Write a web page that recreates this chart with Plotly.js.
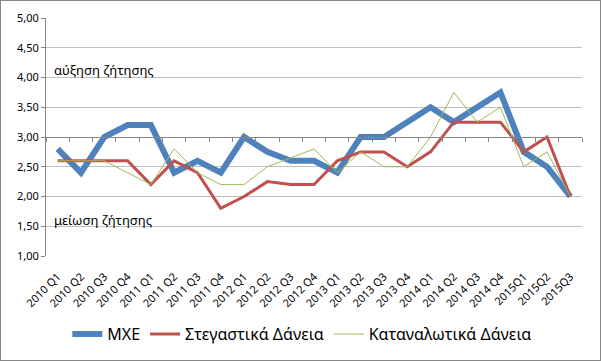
<!DOCTYPE html>
<html><head><meta charset="utf-8">
<script src="https://cdn.plot.ly/plotly-3.0.1.min.js"></script>
<style>
html,body{margin:0;padding:0;background:#fff;}
#wrap{position:absolute;left:0;top:0;width:601px;height:361px;box-sizing:border-box;border:1px solid #868686;}
#chart{width:599px;height:359px;}
</style></head>
<body><div id="wrap"><div id="chart"></div></div>
<script>
const categories = ["2010 Q1","2010 Q2","2010 Q3","2010 Q4","2011 Q1","2011 Q2","2011 Q3","2011 Q4",
  "2012 Q1","2012 Q2","2012 Q3","2012 Q4","2013 Q1","2013 Q2","2013 Q3","2013 Q4",
  "2014 Q1","2014 Q2","2014 Q3","2014 Q4","2015Q1","2015Q2","2015Q3"];
const mxe      = [2.8,2.4,3.0,3.2,3.2,2.4,2.6,2.4,3.0,2.75,2.6,2.6,2.4,3.0,3.0,3.25,3.5,3.25,3.5,3.75,2.75,2.5,2.0];
const housing  = [2.6,2.6,2.6,2.6,2.2,2.6,2.4,1.8,2.0,2.25,2.2,2.2,2.6,2.75,2.75,2.5,2.75,3.25,3.25,3.25,2.75,3.0,2.0];
const consumer = [2.6,2.6,2.6,2.4,2.2,2.8,2.4,2.2,2.2,2.5,2.65,2.8,2.4,2.75,2.5,2.5,3.0,3.75,3.25,3.5,2.5,2.75,2.0];
const seriesNames = ["ΜΧΕ","Στεγαστικά Δάνεια","Καταναλωτικά Δάνεια"];
const FONT = "Noto Sans, DejaVu Sans, sans-serif";

const traces = [
  {x:categories, y:mxe, name:seriesNames[0], type:"scatter", mode:"lines",
   line:{color:"#4F81BD", width:6}},
  {x:categories, y:housing, name:seriesNames[1], type:"scatter", mode:"lines",
   line:{color:"#C0504D", width:3}},
  {x:categories, y:consumer, name:seriesNames[2], type:"scatter", mode:"lines",
   line:{color:"#9BBB59", width:1}},
  // empty helper trace so the crossing axis (at 3,00) is drawn
  {x:[], y:[], xaxis:"x2", yaxis:"y", type:"scatter", mode:"lines", showlegend:false, hoverinfo:"skip"}
];

const boundaries = categories.map((c,i)=>i-0.5).concat([categories.length-0.5]);

const layout = {
  width:599, height:359,
  margin:{l:45, r:18, t:17, b:104},
  paper_bgcolor:"#fff", plot_bgcolor:"#fff",
  separators:",.",
  font:{family:FONT, size:11, color:"#000"},
  showlegend:true,
  legend:{orientation:"h", xref:"container", yref:"container", x:0.503, xanchor:"center", y:0.072, yanchor:"middle",
    font:{family:FONT, size:16, color:"#000"}},
  xaxis:{type:"category", range:[-0.5, categories.length-0.5], tickangle:-45, automargin:false,
    showgrid:false, zeroline:false, showline:false, ticks:"outside", ticklen:9, tickcolor:"rgba(0,0,0,0)",
    tickfont:{family:FONT, size:11, color:"#000"}},
  xaxis2:{overlaying:"x", anchor:"free", position:0.5, range:[-0.5, categories.length-0.5], automargin:false,
    tickmode:"array", tickvals:boundaries, showticklabels:false, ticks:"outside", ticklen:4,
    tickcolor:"#868686", showline:true, linecolor:"#868686", linewidth:1, showgrid:false, zeroline:false},
  yaxis:{range:[1,5], dtick:0.5, tick0:1, tickformat:".2f", showgrid:true, gridcolor:"#BFBFBF", automargin:false,
    zeroline:false, showline:true, linecolor:"#868686", ticks:"outside", ticklen:4, tickcolor:"#868686",
    tickfont:{family:FONT, size:11, color:"#000"}},
  annotations:[
    {text:"αύξηση ζήτησης", xref:"paper", yref:"y", x:0.012, y:4.13, xanchor:"left", yanchor:"middle",
     showarrow:false, font:{family:FONT, size:13, color:"#000"}},
    {text:"μείωση ζήτησης", xref:"paper", yref:"y", x:0.012, y:1.6, xanchor:"left", yanchor:"middle",
     showarrow:false, font:{family:FONT, size:13, color:"#000"}}
  ]
};
Plotly.newPlot("chart", traces, layout, {displayModeBar:false, staticPlot:true});
</script></body></html>
